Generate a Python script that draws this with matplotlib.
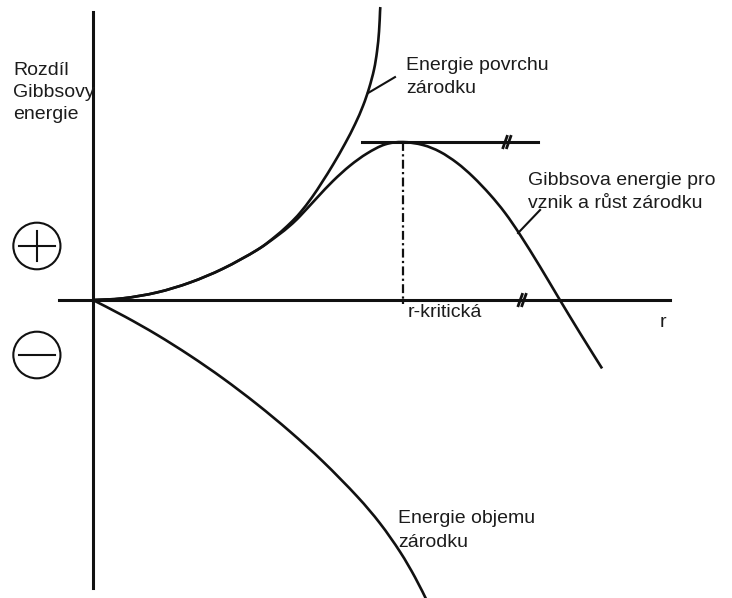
"""
Gibbs energy of nucleus formation: surface term, volume term and their sum,
with the critical nucleus radius marked on the r axis.
"""

import numpy as np
import matplotlib
matplotlib.use("Agg")
import matplotlib.pyplot as plt
from matplotlib.patches import Ellipse, PathPatch
from matplotlib.path import Path

plt.rcParams['font.family'] = ['Liberation Sans', 'DejaVu Sans']

# Nucleus radius r (r-kritická = 10) and change of Gibbs energy (maximum = 10)
R_SURFACE = [0, 0.968, 2.065, 3.129, 4.194, 5.290, 5.935, 6.355, 6.677, 7.065,
             7.387, 7.742, 8.129, 8.452, 8.710, 8.903, 9.065, 9.161, 9.226,
             9.258, 9.268]
G_SURFACE = [0, 0.108, 0.481, 1.108, 1.987, 3.165, 4.114, 4.854, 5.519, 6.506,
             7.456, 8.570, 9.899, 11.133, 12.297, 13.399, 14.601, 15.741,
             17.006, 18.272, 18.544]

R_TOTAL = [0, 0.968, 2.065, 3.129, 4.194, 5.290, 5.935, 6.355, 6.677, 7.226,
           7.742, 8.290, 8.839, 9.419, 10.0, 10.645, 11.194, 11.742, 12.258,
           12.806, 13.290, 13.774, 14.419, 15.0, 15.710, 16.419]
G_TOTAL = [0, 0.108, 0.481, 1.108, 1.987, 3.165, 4.051, 4.709, 5.310, 6.475,
           7.538, 8.506, 9.278, 9.848, 10.0, 9.810, 9.380, 8.677, 7.797,
           6.671, 5.513, 4.133, 2.108, 0.196, -2.101, -4.329]

R_VOLUME = [0, 1.032, 2.065, 3.129, 4.194, 5.290, 6.355, 7.419, 8.516, 9.258,
            9.903, 10.387, 10.774]
G_VOLUME = [0, -1.051, -2.203, -3.519, -4.962, -6.595, -8.329, -10.228,
            -12.424, -14.139, -15.937, -17.551, -19.051]

R_CRIT = 10.0
G_CRIT = 10.0

LABEL_Y = "Rozdíl\nGibbsovy\nenergie"
LABEL_SURFACE = "Energie povrchu\nzárodku"
LABEL_TOTAL = "Gibbsova energie pro\nvznik a růst zárodku"
LABEL_VOLUME = "Energie objemu\nzárodku"
LABEL_RCRIT = "r-kritická"
LABEL_R = "r"

INK = '#111111'
TEXT = '#1c1c1c'


def smooth_curve(ax, r, g, lw=1.9):
    """Draw a smooth curve through the given points (Catmull-Rom as cubic Beziers)."""
    pts = np.column_stack([r, g]).astype(float)
    ext = np.vstack([pts[0], pts, pts[-1]])
    verts = [pts[0]]
    codes = [Path.MOVETO]
    for i in range(1, len(ext) - 2):
        p0, p1, p2, p3 = ext[i - 1], ext[i], ext[i + 1], ext[i + 2]
        verts += [p1 + (p2 - p0) / 6.0, p2 - (p3 - p1) / 6.0, p2]
        codes += [Path.CURVE4] * 3
    ax.add_patch(PathPatch(Path(verts, codes), fill=False, edgecolor=INK,
                           linewidth=lw, joinstyle='round', capstyle='butt'))


def draw_break(ax, r, g):
    """Draw a '//' break mark centred on (r, g)."""
    dx, dy, gap = 0.08, 0.44, 0.06
    for off in (-gap, gap):
        ax.plot([r + off - dx, r + off + dx], [g - dy, g + dy],
                color=INK, linewidth=2.0, solid_capstyle='butt')


def draw_sign(ax, r, g, plus):
    """Circled plus / minus sign."""
    ax.add_patch(Ellipse((r, g), 1.52, 2.95, fill=False, edgecolor=INK, linewidth=1.5))
    ax.plot([r - 0.57, r + 0.57], [g, g], color=INK, linewidth=1.5)
    if plus:
        ax.plot([r, r], [g - 0.98, g + 0.98], color=INK, linewidth=1.5)


def draw_label(ax, r, g, text, pitch=1.44):
    """Left-aligned label; g is the baseline of the first line."""
    for i, line in enumerate(text.split("\n")):
        ax.text(r, g - i * pitch, line, fontsize=14, color=TEXT,
                ha='left', va='baseline')


def main():
    fig = plt.figure(figsize=(7.32, 5.98), dpi=100)
    ax = fig.add_axes([0, 0, 1, 1])
    ax.set_xlim(-3.0, 20.61)
    ax.set_ylim(-18.86, 18.99)
    ax.axis('off')

    # Coordinate axes
    ax.plot([0, 0], [-18.23, 18.23], color=INK, linewidth=2.2)
    ax.plot([-1.10, 18.61], [0, 0], color=INK, linewidth=2.2)

    # Energy curves
    smooth_curve(ax, R_SURFACE, G_SURFACE)
    smooth_curve(ax, R_TOTAL, G_TOTAL)
    smooth_curve(ax, R_VOLUME, G_VOLUME)

    # Tangent at the maximum and the critical radius
    ax.plot([8.68, 14.35], [G_CRIT, G_CRIT], color=INK, linewidth=2.2)
    ax.plot([R_CRIT, R_CRIT], [G_CRIT, -0.25], color=INK, linewidth=1.6,
            linestyle=(0, (4.0, 1.5, 1.0, 1.5)))
    draw_break(ax, 13.35, G_CRIT)
    draw_break(ax, 13.84, 0)

    # Leader lines to the curve labels
    ax.plot([8.87, 9.74], [13.10, 14.11], color=INK, linewidth=1.5)
    ax.plot([13.71, 14.42], [4.24, 5.70], color=INK, linewidth=1.5)

    draw_sign(ax, -1.81, 3.42, plus=True)
    draw_sign(ax, -1.81, -3.48, plus=False)

    draw_label(ax, -2.58, 14.24, LABEL_Y, pitch=1.39)
    draw_label(ax, 10.10, 14.56, LABEL_SURFACE)
    draw_label(ax, 14.03, 7.28, LABEL_TOTAL)
    draw_label(ax, 9.84, -14.11, LABEL_VOLUME, pitch=1.52)
    draw_label(ax, 10.16, -1.08, LABEL_RCRIT)
    draw_label(ax, 18.29, -1.71, LABEL_R)

    fig.savefig("out.png", dpi=100, facecolor='white')
    plt.close(fig)


if __name__ == "__main__":
    main()
